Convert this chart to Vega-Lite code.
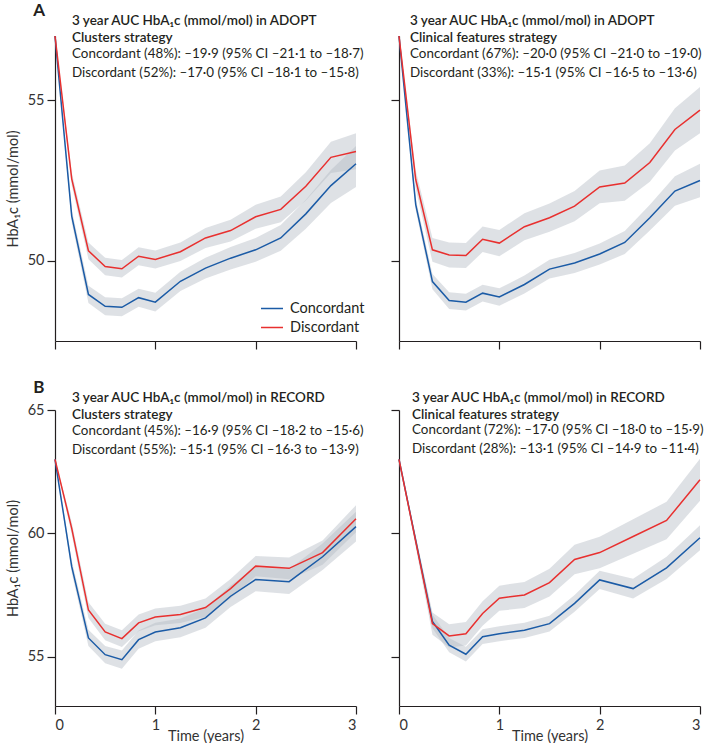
{
  "$schema": "https://vega.github.io/schema/vega-lite/v6.json",
  "padding": {"left": 5, "top": 2, "right": 0, "bottom": 0},
  "background": "white",
  "config": {
    "font": "Lato",
    "view": {"stroke": null},
    "axis": {"domainColor": "#231f20", "tickColor": "#231f20", "domainWidth": 1.2, "tickWidth": 1.2, "tickSize": 8, "grid": false, "labelFontSize": 14.5, "labelColor": "#333333", "titleFontSize": 14.5, "titleFontWeight": "normal", "titleColor": "#333333", "labelPadding": 3},
    "axisX": {"labelPadding": 4},
    "title": {"color": "#231f20", "subtitleColor": "#231f20"}
  },
  "data": {"values": [
    {"panel":"A1","group":"Concordant","time":0,"hba1c":57,"lo":57,"hi":57},
    {"panel":"A1","group":"Concordant","time":0.1667,"hba1c":51.39,"lo":51.19,"hi":51.59},
    {"panel":"A1","group":"Concordant","time":0.3333,"hba1c":48.95,"lo":48.68,"hi":49.22},
    {"panel":"A1","group":"Concordant","time":0.5,"hba1c":48.58,"lo":48.30,"hi":48.86},
    {"panel":"A1","group":"Concordant","time":0.6667,"hba1c":48.55,"lo":48.27,"hi":48.83},
    {"panel":"A1","group":"Concordant","time":0.8333,"hba1c":48.85,"lo":48.57,"hi":49.13},
    {"panel":"A1","group":"Concordant","time":1,"hba1c":48.71,"lo":48.42,"hi":49.00},
    {"panel":"A1","group":"Concordant","time":1.25,"hba1c":49.36,"lo":49.06,"hi":49.66},
    {"panel":"A1","group":"Concordant","time":1.5,"hba1c":49.77,"lo":49.45,"hi":50.09},
    {"panel":"A1","group":"Concordant","time":1.75,"hba1c":50.08,"lo":49.73,"hi":50.43},
    {"panel":"A1","group":"Concordant","time":2,"hba1c":50.34,"lo":49.97,"hi":50.71},
    {"panel":"A1","group":"Concordant","time":2.25,"hba1c":50.71,"lo":50.31,"hi":51.11},
    {"panel":"A1","group":"Concordant","time":2.5,"hba1c":51.46,"lo":51.00,"hi":51.90},
    {"panel":"A1","group":"Concordant","time":2.75,"hba1c":52.34,"lo":51.80,"hi":52.83},
    {"panel":"A1","group":"Concordant","time":3,"hba1c":53.02,"lo":52.30,"hi":53.57},
    {"panel":"A1","group":"Discordant","time":0,"hba1c":57,"lo":57,"hi":57},
    {"panel":"A1","group":"Discordant","time":0.1667,"hba1c":52.55,"lo":52.35,"hi":52.75},
    {"panel":"A1","group":"Discordant","time":0.3333,"hba1c":50.31,"lo":50.05,"hi":50.57},
    {"panel":"A1","group":"Discordant","time":0.5,"hba1c":49.82,"lo":49.55,"hi":50.09},
    {"panel":"A1","group":"Discordant","time":0.6667,"hba1c":49.75,"lo":49.48,"hi":50.02},
    {"panel":"A1","group":"Discordant","time":0.8333,"hba1c":50.14,"lo":49.86,"hi":50.42},
    {"panel":"A1","group":"Discordant","time":1,"hba1c":50.04,"lo":49.76,"hi":50.32},
    {"panel":"A1","group":"Discordant","time":1.25,"hba1c":50.28,"lo":49.99,"hi":50.57},
    {"panel":"A1","group":"Discordant","time":1.5,"hba1c":50.71,"lo":50.40,"hi":51.02},
    {"panel":"A1","group":"Discordant","time":1.75,"hba1c":50.94,"lo":50.60,"hi":51.28},
    {"panel":"A1","group":"Discordant","time":2,"hba1c":51.37,"lo":51.00,"hi":51.74},
    {"panel":"A1","group":"Discordant","time":2.25,"hba1c":51.60,"lo":51.20,"hi":52.00},
    {"panel":"A1","group":"Discordant","time":2.5,"hba1c":52.32,"lo":51.88,"hi":52.76},
    {"panel":"A1","group":"Discordant","time":2.75,"hba1c":53.22,"lo":52.73,"hi":53.71},
    {"panel":"A1","group":"Discordant","time":3,"hba1c":53.40,"lo":52.85,"hi":53.97},
    {"panel":"A2","group":"Concordant","time":0,"hba1c":57,"lo":57,"hi":57},
    {"panel":"A2","group":"Concordant","time":0.1667,"hba1c":51.75,"lo":51.57,"hi":51.93},
    {"panel":"A2","group":"Concordant","time":0.3333,"hba1c":49.35,"lo":49.11,"hi":49.59},
    {"panel":"A2","group":"Concordant","time":0.5,"hba1c":48.76,"lo":48.50,"hi":49.02},
    {"panel":"A2","group":"Concordant","time":0.6667,"hba1c":48.71,"lo":48.45,"hi":48.97},
    {"panel":"A2","group":"Concordant","time":0.8333,"hba1c":48.99,"lo":48.73,"hi":49.25},
    {"panel":"A2","group":"Concordant","time":1,"hba1c":48.87,"lo":48.60,"hi":49.14},
    {"panel":"A2","group":"Concordant","time":1.25,"hba1c":49.26,"lo":48.98,"hi":49.54},
    {"panel":"A2","group":"Concordant","time":1.5,"hba1c":49.74,"lo":49.45,"hi":50.03},
    {"panel":"A2","group":"Concordant","time":1.75,"hba1c":49.93,"lo":49.62,"hi":50.24},
    {"panel":"A2","group":"Concordant","time":2,"hba1c":50.21,"lo":49.88,"hi":50.54},
    {"panel":"A2","group":"Concordant","time":2.25,"hba1c":50.57,"lo":50.21,"hi":50.93},
    {"panel":"A2","group":"Concordant","time":2.5,"hba1c":51.34,"lo":50.94,"hi":51.74},
    {"panel":"A2","group":"Concordant","time":2.75,"hba1c":52.17,"lo":51.71,"hi":52.63},
    {"panel":"A2","group":"Concordant","time":3,"hba1c":52.50,"lo":51.98,"hi":53.02},
    {"panel":"A2","group":"Discordant","time":0,"hba1c":57,"lo":57,"hi":57},
    {"panel":"A2","group":"Discordant","time":0.1667,"hba1c":52.53,"lo":52.25,"hi":52.81},
    {"panel":"A2","group":"Discordant","time":0.3333,"hba1c":50.34,"lo":49.97,"hi":50.71},
    {"panel":"A2","group":"Discordant","time":0.5,"hba1c":50.18,"lo":49.79,"hi":50.57},
    {"panel":"A2","group":"Discordant","time":0.6667,"hba1c":50.16,"lo":49.77,"hi":50.55},
    {"panel":"A2","group":"Discordant","time":0.8333,"hba1c":50.67,"lo":50.27,"hi":51.07},
    {"panel":"A2","group":"Discordant","time":1,"hba1c":50.55,"lo":50.14,"hi":50.96},
    {"panel":"A2","group":"Discordant","time":1.25,"hba1c":51.06,"lo":50.64,"hi":51.48},
    {"panel":"A2","group":"Discordant","time":1.5,"hba1c":51.34,"lo":50.90,"hi":51.78},
    {"panel":"A2","group":"Discordant","time":1.75,"hba1c":51.70,"lo":51.23,"hi":52.17},
    {"panel":"A2","group":"Discordant","time":2,"hba1c":52.30,"lo":51.79,"hi":52.81},
    {"panel":"A2","group":"Discordant","time":2.25,"hba1c":52.42,"lo":51.87,"hi":52.97},
    {"panel":"A2","group":"Discordant","time":2.5,"hba1c":53.06,"lo":52.46,"hi":53.66},
    {"panel":"A2","group":"Discordant","time":2.75,"hba1c":54.09,"lo":53.43,"hi":54.75},
    {"panel":"A2","group":"Discordant","time":3,"hba1c":54.69,"lo":53.97,"hi":55.41},
    {"panel":"B1","group":"Concordant","time":0,"hba1c":63,"lo":63,"hi":63},
    {"panel":"B1","group":"Concordant","time":0.1667,"hba1c":58.65,"lo":58.40,"hi":58.90},
    {"panel":"B1","group":"Concordant","time":0.3333,"hba1c":55.76,"lo":55.43,"hi":56.09},
    {"panel":"B1","group":"Concordant","time":0.5,"hba1c":55.08,"lo":54.73,"hi":55.43},
    {"panel":"B1","group":"Concordant","time":0.6667,"hba1c":54.88,"lo":54.51,"hi":55.25},
    {"panel":"B1","group":"Concordant","time":0.8333,"hba1c":55.69,"lo":55.32,"hi":56.06},
    {"panel":"B1","group":"Concordant","time":1,"hba1c":56.00,"lo":55.63,"hi":56.37},
    {"panel":"B1","group":"Concordant","time":1.25,"hba1c":56.17,"lo":55.79,"hi":56.55},
    {"panel":"B1","group":"Concordant","time":1.5,"hba1c":56.57,"lo":56.17,"hi":56.97},
    {"panel":"B1","group":"Concordant","time":1.75,"hba1c":57.45,"lo":57.01,"hi":57.89},
    {"panel":"B1","group":"Concordant","time":2,"hba1c":58.13,"lo":57.65,"hi":58.61},
    {"panel":"B1","group":"Concordant","time":2.3333,"hba1c":58.04,"lo":57.54,"hi":58.54},
    {"panel":"B1","group":"Concordant","time":2.6667,"hba1c":59.05,"lo":58.51,"hi":59.59},
    {"panel":"B1","group":"Concordant","time":3,"hba1c":60.27,"lo":59.67,"hi":60.87},
    {"panel":"B1","group":"Discordant","time":0,"hba1c":63,"lo":63,"hi":63},
    {"panel":"B1","group":"Discordant","time":0.1667,"hba1c":60.20,"lo":59.95,"hi":60.45},
    {"panel":"B1","group":"Discordant","time":0.3333,"hba1c":56.89,"lo":56.57,"hi":57.21},
    {"panel":"B1","group":"Discordant","time":0.5,"hba1c":56.00,"lo":55.67,"hi":56.33},
    {"panel":"B1","group":"Discordant","time":0.6667,"hba1c":55.73,"lo":55.39,"hi":56.07},
    {"panel":"B1","group":"Discordant","time":0.8333,"hba1c":56.37,"lo":56.03,"hi":56.71},
    {"panel":"B1","group":"Discordant","time":1,"hba1c":56.61,"lo":56.27,"hi":56.95},
    {"panel":"B1","group":"Discordant","time":1.25,"hba1c":56.71,"lo":56.36,"hi":57.06},
    {"panel":"B1","group":"Discordant","time":1.5,"hba1c":56.99,"lo":56.62,"hi":57.36},
    {"panel":"B1","group":"Discordant","time":1.75,"hba1c":57.76,"lo":57.37,"hi":58.15},
    {"panel":"B1","group":"Discordant","time":2,"hba1c":58.67,"lo":58.26,"hi":59.08},
    {"panel":"B1","group":"Discordant","time":2.3333,"hba1c":58.58,"lo":58.14,"hi":59.02},
    {"panel":"B1","group":"Discordant","time":2.6667,"hba1c":59.22,"lo":58.73,"hi":59.71},
    {"panel":"B1","group":"Discordant","time":3,"hba1c":60.59,"lo":60.04,"hi":61.14},
    {"panel":"B2","group":"Concordant","time":0,"hba1c":63,"lo":63,"hi":63},
    {"panel":"B2","group":"Concordant","time":0.3333,"hba1c":56.43,"lo":56.15,"hi":56.71},
    {"panel":"B2","group":"Concordant","time":0.5,"hba1c":55.47,"lo":55.18,"hi":55.76},
    {"panel":"B2","group":"Concordant","time":0.6667,"hba1c":55.10,"lo":54.80,"hi":55.40},
    {"panel":"B2","group":"Concordant","time":0.8333,"hba1c":55.81,"lo":55.51,"hi":56.11},
    {"panel":"B2","group":"Concordant","time":1,"hba1c":55.93,"lo":55.63,"hi":56.23},
    {"panel":"B2","group":"Concordant","time":1.25,"hba1c":56.07,"lo":55.76,"hi":56.38},
    {"panel":"B2","group":"Concordant","time":1.5,"hba1c":56.34,"lo":56.02,"hi":56.66},
    {"panel":"B2","group":"Concordant","time":1.75,"hba1c":57.16,"lo":56.82,"hi":57.50},
    {"panel":"B2","group":"Concordant","time":2,"hba1c":58.11,"lo":57.74,"hi":58.48},
    {"panel":"B2","group":"Concordant","time":2.3333,"hba1c":57.76,"lo":57.36,"hi":58.16},
    {"panel":"B2","group":"Concordant","time":2.6667,"hba1c":58.60,"lo":58.15,"hi":59.05},
    {"panel":"B2","group":"Concordant","time":3,"hba1c":59.82,"lo":59.31,"hi":60.33},
    {"panel":"B2","group":"Discordant","time":0,"hba1c":63,"lo":63,"hi":63},
    {"panel":"B2","group":"Discordant","time":0.3333,"hba1c":56.34,"lo":55.89,"hi":56.79},
    {"panel":"B2","group":"Discordant","time":0.5,"hba1c":55.84,"lo":55.37,"hi":56.31},
    {"panel":"B2","group":"Discordant","time":0.6667,"hba1c":55.93,"lo":55.45,"hi":56.41},
    {"panel":"B2","group":"Discordant","time":0.8333,"hba1c":56.75,"lo":56.25,"hi":57.25},
    {"panel":"B2","group":"Discordant","time":1,"hba1c":57.37,"lo":56.86,"hi":57.88},
    {"panel":"B2","group":"Discordant","time":1.25,"hba1c":57.50,"lo":56.97,"hi":58.03},
    {"panel":"B2","group":"Discordant","time":1.5,"hba1c":58.00,"lo":57.44,"hi":58.56},
    {"panel":"B2","group":"Discordant","time":1.75,"hba1c":58.94,"lo":58.34,"hi":59.54},
    {"panel":"B2","group":"Discordant","time":2,"hba1c":59.22,"lo":58.58,"hi":59.86},
    {"panel":"B2","group":"Discordant","time":2.3333,"hba1c":59.87,"lo":59.17,"hi":60.57},
    {"panel":"B2","group":"Discordant","time":2.6667,"hba1c":60.52,"lo":59.76,"hi":61.28},
    {"panel":"B2","group":"Discordant","time":3,"hba1c":62.17,"lo":61.32,"hi":63.02}
  ]},
  "spacing": 28,
  "resolve": {"scale": {"color": "independent"}, "legend": {"color": "independent"}},
  "vconcat": [
    {
      "title": {"text": "A", "anchor": "start", "frame": "bounds", "fontSize": 17, "fontWeight": "bold", "color": "#231f20", "dx": 28, "offset": -6},
      "bounds": "flush",
      "spacing": 43,
      "resolve": {"scale": {"color": "independent"}, "legend": {"color": "independent"}},
      "hconcat": [
        {
          "width": 301, "height": 305,
          "title": {"text": ["3 year AUC HbA₁c (mmol/mol) in ADOPT", "Clusters strategy"], "subtitle": ["Concordant (48%): –19·9 (95% CI –21·1 to –18·7)", "Discordant (52%): –17·0 (95% CI –18·1 to –15·8)"], "anchor": "start", "frame": "group", "dx": 17, "offset": -46, "fontSize": 13.5, "fontWeight": 600, "lineHeight": 17, "subtitleFontSize": 13.4, "subtitleLineHeight": 19, "subtitlePadding": 2},
          "transform": [{"filter": {"field": "panel", "equal": "A1"}}],
          "layer": [
            {"mark": {"type": "area", "color": "#b4bac3", "opacity": 0.44},
             "encoding": {
               "x": {"field": "time", "type": "quantitative", "scale": {"domain": [0, 3], "nice": false}, "axis": {"values": [0, 1, 2, 3], "labels": false, "title": null}},
               "y": {"field": "lo", "type": "quantitative", "scale": {"domain": [47.5, 57], "nice": false, "zero": false}, "axis": {"values": [50, 55], "title": "HbA₁c (mmol/mol)", "titlePadding": 7}},
               "y2": {"field": "hi"},
               "detail": {"field": "group"}}},
            {"mark": {"type": "line", "strokeWidth": 1.5},
             "encoding": {
               "x": {"field": "time", "type": "quantitative", "axis": {"values": [0, 1, 2, 3], "labels": false, "title": null}},
               "y": {"field": "hba1c", "type": "quantitative", "axis": {"values": [50, 55], "title": "HbA₁c (mmol/mol)", "titlePadding": 7}},
               "color": {"field": "group", "type": "nominal", "scale": {"domain": ["Concordant", "Discordant"], "range": ["#1b5ba6", "#e8302f"]},
                 "legend": {"title": null, "orient": "none", "legendX": 205, "legendY": 264, "padding": 0, "symbolType": "stroke", "symbolSize": 484, "symbolStrokeWidth": 1.5, "clipHeight": 17, "rowPadding": 2, "labelOffset": 6, "labelFontSize": 14.5, "labelColor": "#231f20"}}}}
          ]
        },
        {
          "width": 301, "height": 305,
          "title": {"text": ["3 year AUC HbA₁c (mmol/mol) in ADOPT", "Clinical features strategy"], "subtitle": ["Concordant (67%): –20·0 (95% CI –21·0 to –19·0)", "Discordant (33%): –15·1 (95% CI –16·5 to –13·6)"], "anchor": "start", "frame": "group", "dx": 11, "offset": -46, "fontSize": 13.5, "fontWeight": 600, "lineHeight": 17, "subtitleFontSize": 13.4, "subtitleLineHeight": 19, "subtitlePadding": 2},
          "transform": [{"filter": {"field": "panel", "equal": "A2"}}],
          "layer": [
            {"mark": {"type": "area", "color": "#b4bac3", "opacity": 0.44},
             "encoding": {
               "x": {"field": "time", "type": "quantitative", "scale": {"domain": [0, 3], "nice": false}, "axis": {"values": [0, 1, 2, 3], "labels": false, "title": null}},
               "y": {"field": "lo", "type": "quantitative", "scale": {"domain": [47.5, 57], "nice": false, "zero": false}, "axis": {"values": [50, 55], "labels": false, "title": null}},
               "y2": {"field": "hi"},
               "detail": {"field": "group"}}},
            {"mark": {"type": "line", "strokeWidth": 1.5},
             "encoding": {
               "x": {"field": "time", "type": "quantitative", "axis": {"values": [0, 1, 2, 3], "labels": false, "title": null}},
               "y": {"field": "hba1c", "type": "quantitative", "axis": {"values": [50, 55], "labels": false, "title": null}},
               "color": {"field": "group", "type": "nominal", "scale": {"domain": ["Concordant", "Discordant"], "range": ["#1b5ba6", "#e8302f"]}, "legend": null}}}
          ]
        }
      ]
    },
    {
      "title": {"text": "B", "anchor": "start", "frame": "bounds", "fontSize": 17, "fontWeight": "bold", "color": "#231f20", "dx": 28, "offset": -6},
      "bounds": "flush",
      "spacing": 43,
      "resolve": {"scale": {"color": "independent"}, "legend": {"color": "independent"}},
      "hconcat": [
        {
          "width": 301, "height": 296,
          "title": {"text": ["3 year AUC HbA₁c (mmol/mol) in RECORD", "Clusters strategy"], "subtitle": ["Concordant (45%): –16·9 (95% CI –18·2 to –15·6)", "Discordant (55%): –15·1 (95% CI –16·3 to –13·9)"], "anchor": "start", "frame": "group", "dx": 17, "offset": -54, "fontSize": 13.5, "fontWeight": 600, "lineHeight": 17, "subtitleFontSize": 13.4, "subtitleLineHeight": 19, "subtitlePadding": 2},
          "transform": [{"filter": {"field": "panel", "equal": "B1"}}],
          "layer": [
            {"mark": {"type": "area", "color": "#b4bac3", "opacity": 0.44},
             "encoding": {
               "x": {"field": "time", "type": "quantitative", "scale": {"domain": [0, 3], "nice": false}, "axis": {"values": [0, 1, 2, 3], "title": "Time (years)", "titlePadding": -2}},
               "y": {"field": "lo", "type": "quantitative", "scale": {"domain": [53, 65], "nice": false, "zero": false}, "axis": {"values": [55, 60, 65], "title": "HbA₁c (mmol/mol)", "titlePadding": 7}},
               "y2": {"field": "hi"},
               "detail": {"field": "group"}}},
            {"mark": {"type": "line", "strokeWidth": 1.5},
             "encoding": {
               "x": {"field": "time", "type": "quantitative", "axis": {"values": [0, 1, 2, 3], "title": "Time (years)", "titlePadding": -2}},
               "y": {"field": "hba1c", "type": "quantitative", "axis": {"values": [55, 60, 65], "title": "HbA₁c (mmol/mol)", "titlePadding": 7}},
               "color": {"field": "group", "type": "nominal", "scale": {"domain": ["Concordant", "Discordant"], "range": ["#1b5ba6", "#e8302f"]}, "legend": null}}}
          ]
        },
        {
          "width": 301, "height": 296,
          "title": {"text": ["3 year AUC HbA₁c (mmol/mol) in RECORD", "Clinical features strategy"], "subtitle": ["Concordant (72%): –17·0 (95% CI –18·0 to –15·9)", "Discordant (28%): –13·1 (95% CI –14·9 to –11·4)"], "anchor": "start", "frame": "group", "dx": 13, "offset": -46, "fontSize": 13.5, "fontWeight": 600, "lineHeight": 17, "subtitleFontSize": 13.4, "subtitleLineHeight": 19, "subtitlePadding": 2},
          "transform": [{"filter": {"field": "panel", "equal": "B2"}}],
          "layer": [
            {"mark": {"type": "area", "color": "#b4bac3", "opacity": 0.44},
             "encoding": {
               "x": {"field": "time", "type": "quantitative", "scale": {"domain": [0, 3], "nice": false}, "axis": {"values": [0, 1, 2, 3], "title": "Time (years)", "titlePadding": -2}},
               "y": {"field": "lo", "type": "quantitative", "scale": {"domain": [53, 65], "nice": false, "zero": false}, "axis": {"values": [55, 60, 65], "labels": false, "title": null}},
               "y2": {"field": "hi"},
               "detail": {"field": "group"}}},
            {"mark": {"type": "line", "strokeWidth": 1.5},
             "encoding": {
               "x": {"field": "time", "type": "quantitative", "axis": {"values": [0, 1, 2, 3], "title": "Time (years)", "titlePadding": -2}},
               "y": {"field": "hba1c", "type": "quantitative", "axis": {"values": [55, 60, 65], "labels": false, "title": null}},
               "color": {"field": "group", "type": "nominal", "scale": {"domain": ["Concordant", "Discordant"], "range": ["#1b5ba6", "#e8302f"]}, "legend": null}}}
          ]
        }
      ]
    }
  ]
}
